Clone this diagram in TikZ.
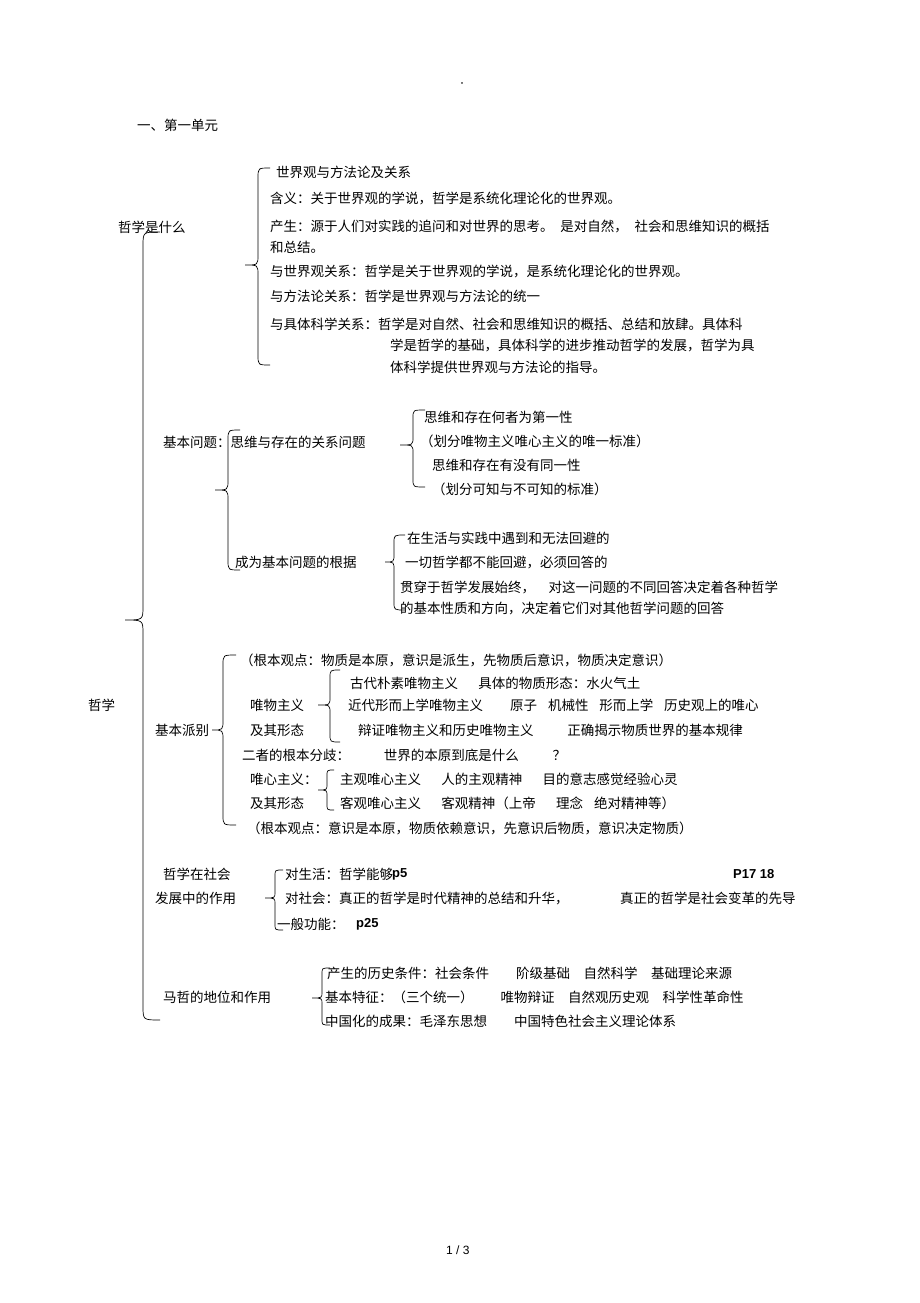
\documentclass[tikz,border=0pt]{standalone}
\usepackage{fontspec}
\setmainfont{Noto Sans CJK SC}
\newfontfamily\latinf{Liberation Sans}
\begin{document}
\begin{tikzpicture}[x=1pt,y=-1pt,
  t/.style={anchor=west,inner sep=0pt,font=\fontsize{13.5}{15}\selectfont},
  brc/.style={draw=black,line width=0.7pt}]
\useasboundingbox (0,0) rectangle (920,1303);
\newcommand{\mybrace}[7]{% xr, ytop, xm, xt, ym, ybot, r
  \draw[brc] (#1,#2) .. controls (#3,#2) .. (#3,#2+#7) -- (#3,#5-#7) .. controls (#3,#5) .. (#4,#5)
    .. controls (#3,#5) .. (#3,#5+#7) -- (#3,#6-#7) .. controls (#3,#6) .. (#1,#6);}
\newcommand{\gp}[1][2]{\hspace{#1em}}
% braces
\mybrace{160}{232}{143}{125}{620}{1020}{14}
\mybrace{270}{168}{258}{245}{265}{365}{10}
\mybrace{240}{430}{228}{215}{490}{570}{10}
\mybrace{425}{410}{413}{400}{445}{487}{8}
\mybrace{405}{535}{394}{385}{562}{610}{8}
\mybrace{236}{655}{223}{212}{730}{825}{10}
\mybrace{340}{670}{330}{318}{705}{742}{8}
\mybrace{334}{770}{327}{318}{790}{810}{6}
\mybrace{283}{870}{275}{265}{898}{930}{6}
\mybrace{330}{968}{322}{312}{998}{1025}{6}
% texts
\node[t,font=\fontsize{8}{9}\selectfont] (dot) at (458,85) {·};
\node[t] (h1) at (137,125) {一、第一单元};
\node[t] (a0) at (118,227) {哲学是什么};
\node[t] (a1) at (276,172) {世界观与方法论及关系};
\node[t] (a2) at (270,198) {含义：关于世界观的学说，哲学是系统化理论化的世界观。};
\node[t] (a3) at (270,226) {产生：源于人们对实践的追问和对世界的思考。\gp[0.5]是对自然，\gp[0.5]社会和思维知识的概括};
\node[t] (a4) at (270,247) {和总结。};
\node[t] (a5) at (270,271) {与世界观关系：哲学是关于世界观的学说，是系统化理论化的世界观。};
\node[t] (a6) at (270,296) {与方法论关系：哲学是世界观与方法论的统一};
\node[t] (a7) at (270,324) {与具体科学关系：哲学是对自然、社会和思维知识的概括、总结和放肆。具体科};
\node[t] (a8) at (390,345) {学是哲学的基础，具体科学的进步推动哲学的发展，哲学为具};
\node[t] (a9) at (390,367) {体科学提供世界观与方法论的指导。};
\node[t] (b0) at (163,442) {基本问题：思维与存在的关系问题};
\node[t] (b1) at (424,417) {思维和存在何者为第一性};
\node[t] (b2) at (420,441) {（划分唯物主义唯心主义的唯一标准）};
\node[t] (b3) at (432,465) {思维和存在有没有同一性};
\node[t] (b4) at (432,489) {（划分可知与不可知的标准）};
\node[t] (c0) at (235,562) {成为基本问题的根据};
\node[t] (c1) at (407,538) {在生活与实践中遇到和无法回避的};
\node[t] (c2) at (405,562) {一切哲学都不能回避，必须回答的};
\node[t] (c3) at (400,587) {贯穿于哲学发展始终，\gp[1]对这一问题的不同回答决定着各种哲学};
\node[t] (c4) at (400,608) {的基本性质和方向，决定着它们对其他哲学问题的回答};
\node[t] (z0) at (88,705) {哲学};
\node[t] (d0) at (155,730) {基本派别};
\node[t] (d1) at (240,660) {（根本观点：物质是本原，意识是派生，先物质后意识，物质决定意识）};
\node[t] (d2) at (350,683) {古代朴素唯物主义\gp[1.5]具体的物质形态：水火气土};
\node[t] (d3) at (250,705) {唯物主义};
\node[t] (d4) at (348,705) {近代形而上学唯物主义\gp[2]原子\gp[0.8]机械性\gp[0.8]形而上学\gp[0.8]历史观上的唯心};
\node[t] (d5) at (250,730) {及其形态};
\node[t] (d6) at (358,730) {辩证唯物主义和历史唯物主义\gp[2.5]正确揭示物质世界的基本规律};
\node[t] (d7) at (242,755) {二者的根本分歧：\gp[2.5]世界的本原到底是什么\gp[2.5]？};
\node[t] (d8) at (250,779) {唯心主义：};
\node[t] (d9) at (340,779) {主观唯心主义\gp[1.5]人的主观精神\gp[1.5]目的意志感觉经验心灵};
\node[t] (d10) at (250,803) {及其形态};
\node[t] (d11) at (340,803) {客观唯心主义\gp[1.5]客观精神（上帝\gp[1.5]理念\gp[0.8]绝对精神等）};
\node[t] (d12) at (247,828) {（根本观点：意识是本原，物质依赖意识，先意识后物质，意识决定物质）};
\node[t] (e0) at (163,874) {哲学在社会};
\node[t] (e1) at (155,898) {发展中的作用};
\node[t] (e2) at (285,874) {对生活：哲学能够};
\node[t,font=\latinf\bfseries\fontsize{13}{15}\selectfont] (e3) at (392,874) {p5};
\node[t,font=\latinf\bfseries\fontsize{13}{15}\selectfont] (e4) at (733,874) {P17 18};
\node[t] (e5) at (285,898) {对社会：真正的哲学是时代精神的总结和升华，};
\node[t] (e6) at (620,898) {真正的哲学是社会变革的先导};
\node[t] (e7) at (277,924) {一般功能：};
\node[t,font=\latinf\bfseries\fontsize{13}{15}\selectfont] (e8) at (356,924) {p25};
\node[t] (f0) at (163,997) {马哲的地位和作用};
\node[t] (f1) at (327,973) {产生的历史条件：社会条件\gp[2]阶级基础\gp[1]自然科学\gp[1]基础理论来源};
\node[t] (f2) at (325,997) {基本特征：（三个统一）\gp[2]唯物辩证\gp[1]自然观历史观\gp[1]科学性革命性};
\node[t] (f3) at (325,1021) {中国化的成果：毛泽东思想\gp[2]中国特色社会主义理论体系};
\node[t,font=\latinf\fontsize{12}{14}\selectfont] (pg) at (446,1250) {1 / 3};
\end{tikzpicture}
\end{document}
